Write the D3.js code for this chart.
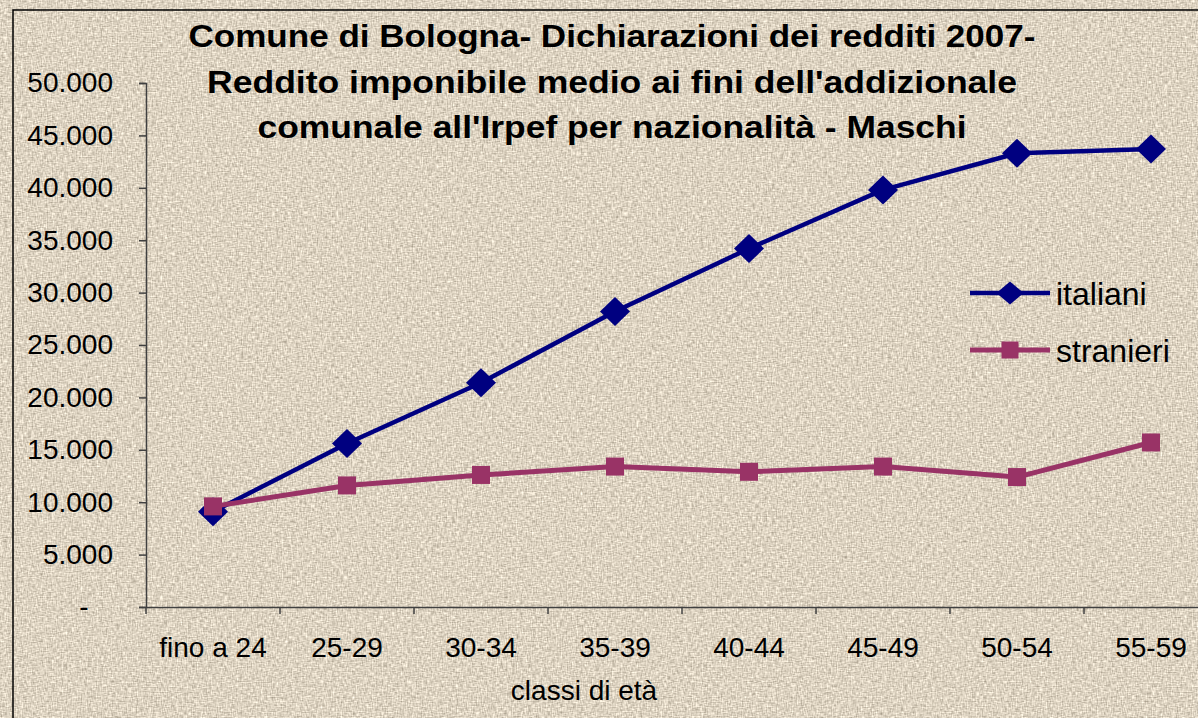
<!DOCTYPE html>
<html>
<head>
<meta charset="utf-8">
<script src="https://cdn.jsdelivr.net/npm/d3@7"></script>
<style>
  html, body { margin: 0; padding: 0; background: #d9cdb9; overflow: hidden; }
  svg { display: block; font-family: "Liberation Sans", Arial, sans-serif; }
</style>
</head>
<body>
<div id="chart"></div>
<script>
// data
var categories = ["fino a 24", "25-29", "30-34", "35-39", "40-44", "45-49", "50-54", "55-59"];
var italiani  = [9100, 15600, 21400, 28200, 34200, 39800, 43300, 43700];
var stranieri = [9600, 11600, 12600, 13400, 12900, 13400, 12400, 15700];
var yTicks = [0, 5000, 10000, 15000, 20000, 25000, 30000, 35000, 40000, 45000, 50000];
var titleLines = [
  "Comune di Bologna- Dichiarazioni dei redditi 2007-",
  "Reddito imponibile medio ai fini dell'addizionale",
  "comunale all'Irpef per nazionalità - Maschi"
];
var titleWidths = [847, 810, 709];

var width = 1198, height = 718;
var plot = {left: 146, right: 1218, top: 83, bottom: 607};

var svg = d3.select("#chart").append("svg")
    .attr("width", width)
    .attr("height", height);

// paper texture
var defs = svg.append("defs");
var f = defs.append("filter")
    .attr("id", "paper")
    .attr("x", 0).attr("y", 0).attr("width", "100%").attr("height", "100%")
    .attr("color-interpolation-filters", "sRGB");
f.append("feTurbulence").attr("type", "fractalNoise").attr("baseFrequency", "0.8 0.25")
    .attr("numOctaves", 1).attr("seed", 3).attr("result", "h");
f.append("feTurbulence").attr("type", "fractalNoise").attr("baseFrequency", "0.25 0.8")
    .attr("numOctaves", 1).attr("seed", 11).attr("result", "v");
f.append("feComposite").attr("in", "h").attr("in2", "v").attr("operator", "arithmetic")
    .attr("k2", 0.5).attr("k3", 0.5).attr("result", "n");
f.append("feColorMatrix").attr("in", "n").attr("type", "matrix")
    .attr("values", "0.75 0 0 0 0.49  0.75 0 0 0 0.45  0.75 0 0 0 0.38  0 0 0 0 1");

svg.append("rect")
    .attr("width", width).attr("height", height)
    .attr("filter", "url(#paper)");

// chart border
svg.append("path")
    .attr("d", "M13," + height + "V10H" + width)
    .attr("fill", "none")
    .attr("stroke", "#000")
    .attr("stroke-width", 1.5);

var x = d3.scaleBand().domain(categories).range([plot.left, plot.right]);
var y = d3.scaleLinear().domain([0, 50000]).range([plot.bottom, plot.top]);
var cx = function (c) { return x(c) + x.bandwidth() / 2; };

// y axis
var yAxis = svg.append("g")
    .attr("transform", "translate(" + plot.left + ",0)")
    .call(d3.axisLeft(y).tickValues(yTicks).tickSize(7).tickPadding(26)
        .tickFormat(function (d) { return d === 0 ? "-" : d3.format(",")(d).replace(/,/g, "."); }));
yAxis.select(".domain").attr("stroke", "#404040").attr("stroke-width", 1.5);
yAxis.selectAll(".tick line").attr("stroke", "#404040").attr("stroke-width", 1.5);
yAxis.selectAll(".tick text")
    .attr("font-size", 28).attr("fill", "#000")
    .attr("font-family", "Liberation Sans, Arial, sans-serif")
    .filter(function (d) { return d === 0; })
    .attr("x", -62).attr("text-anchor", "middle");

// x axis
var xAxis = svg.append("g")
    .attr("transform", "translate(0," + plot.bottom + ")")
    .call(d3.axisBottom(x).tickSize(0).tickPadding(30));
xAxis.select(".domain").attr("stroke", "#404040").attr("stroke-width", 1.5);
xAxis.selectAll(".tick text")
    .attr("font-size", 28).attr("fill", "#000")
    .attr("font-family", "Liberation Sans, Arial, sans-serif");
xAxis.selectAll(".sep")
    .data(categories)
    .enter().append("line")
    .attr("class", "sep")
    .attr("x1", function (d) { return x(d); })
    .attr("x2", function (d) { return x(d); })
    .attr("y1", 0).attr("y2", 7)
    .attr("stroke", "#404040").attr("stroke-width", 1.5);

svg.append("text")
    .attr("x", 584).attr("y", 700)
    .attr("text-anchor", "middle")
    .attr("font-size", 28)
    .text("classi di età");

// title
svg.append("text")
    .attr("text-anchor", "middle")
    .attr("font-size", 32)
    .attr("font-weight", "bold")
    .selectAll("tspan")
    .data(titleLines)
    .enter().append("tspan")
    .attr("x", 612)
    .attr("y", function (d, i) { return 47 + i * 45.5; })
    .attr("textLength", function (d, i) { return titleWidths[i]; })
    .attr("lengthAdjust", "spacingAndGlyphs")
    .text(function (d) { return d; });

// series
var series = [
  {name: "italiani", values: italiani, color: "#000080", width: 4.5,
   shape: "M0,-14.5L15,0L0,14.5L-15,0Z", legendShape: "M0,-11.5L13.5,0L0,11.5L-13.5,0Z"},
  {name: "stranieri", values: stranieri, color: "#993366", width: 5,
   shape: "M-9,-9H9V9H-9Z", legendShape: "M-8.5,-8.5H8.5V8.5H-8.5Z"}
];

var line = d3.line()
    .x(function (d, i) { return cx(categories[i]); })
    .y(function (d) { return y(d); });

series.forEach(function (s) {
  var g = svg.append("g");
  g.append("path")
      .attr("d", line(s.values))
      .attr("fill", "none")
      .attr("stroke", s.color)
      .attr("stroke-width", s.width)
      .attr("stroke-linejoin", "round");
  g.selectAll(".pt")
      .data(s.values)
      .enter().append("path")
      .attr("class", "pt")
      .attr("d", s.shape)
      .attr("fill", s.color)
      .attr("transform", function (d, i) { return "translate(" + cx(categories[i]) + "," + y(d) + ")"; });
});

// legend
var legend = svg.append("g").attr("transform", "translate(970,293)");
series.forEach(function (s, i) {
  var row = legend.append("g").attr("transform", "translate(0," + i * 57 + ")");
  row.append("line")
      .attr("x1", 0).attr("x2", 80)
      .attr("stroke", s.color).attr("stroke-width", s.width);
  row.append("path")
      .attr("d", s.legendShape)
      .attr("fill", s.color)
      .attr("transform", "translate(40,0)");
  row.append("text")
      .attr("x", 86).attr("dy", "0.36em")
      .attr("font-size", 32)
      .text(s.name);
});
</script>
</body>
</html>
